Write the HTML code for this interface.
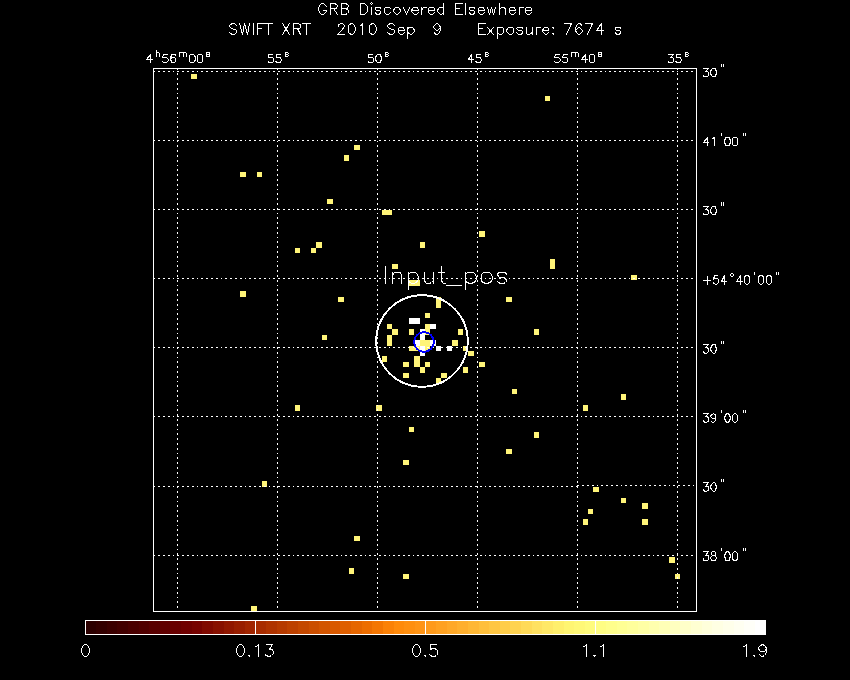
<!DOCTYPE html>
<html><head><meta charset="utf-8"><title>GRB Discovered Elsewhere</title>
<style>
html,body{margin:0;padding:0;background:#000;width:850px;height:680px;overflow:hidden;font-family:"Liberation Sans",sans-serif;}
svg{display:block}
</style></head><body>
<svg width="850" height="680" viewBox="0 0 850 680">
<rect width="850" height="680" fill="#000"/>
<g shape-rendering="crispEdges">
<rect x="191" y="74" width="6" height="5" fill="#fff478"/>
<rect x="240" y="172" width="6" height="5" fill="#fff478"/>
<rect x="257" y="172" width="5" height="5" fill="#fff478"/>
<rect x="354" y="145" width="6" height="5" fill="#fff478"/>
<rect x="344" y="155" width="5" height="6" fill="#fff478"/>
<rect x="327" y="199" width="6" height="5" fill="#fff478"/>
<rect x="545" y="96" width="5" height="5" fill="#fff478"/>
<rect x="295" y="248" width="5" height="5" fill="#fff478"/>
<rect x="311" y="248" width="5" height="5" fill="#fff478"/>
<rect x="316" y="242" width="6" height="6" fill="#fff478"/>
<rect x="240" y="291" width="6" height="6" fill="#fff478"/>
<rect x="382" y="210" width="5" height="5" fill="#fff478"/>
<rect x="387" y="210" width="5" height="5" fill="#fff478"/>
<rect x="479" y="231" width="6" height="6" fill="#fff478"/>
<rect x="420" y="242" width="5" height="6" fill="#fff478"/>
<rect x="392" y="264" width="6" height="5" fill="#fff478"/>
<rect x="409" y="280" width="5" height="6" fill="#fff478"/>
<rect x="414" y="280" width="6" height="6" fill="#fff478"/>
<rect x="338" y="297" width="6" height="5" fill="#fff478"/>
<rect x="436" y="297" width="5" height="5" fill="#fff478"/>
<rect x="436" y="302" width="5" height="6" fill="#fff478"/>
<rect x="425" y="313" width="5" height="5" fill="#fff478"/>
<rect x="387" y="324" width="5" height="5" fill="#fff478"/>
<rect x="392" y="329" width="6" height="6" fill="#fff478"/>
<rect x="387" y="335" width="5" height="5" fill="#fff478"/>
<rect x="387" y="340" width="5" height="6" fill="#fff478"/>
<rect x="409" y="329" width="5" height="6" fill="#fff478"/>
<rect x="425" y="324" width="5" height="5" fill="#fff478"/>
<rect x="425" y="329" width="5" height="6" fill="#fff478"/>
<rect x="458" y="329" width="5" height="6" fill="#fff478"/>
<rect x="420" y="340" width="5" height="6" fill="#fff478"/>
<rect x="425" y="340" width="5" height="6" fill="#fff478"/>
<rect x="409" y="346" width="5" height="5" fill="#fff478"/>
<rect x="414" y="346" width="6" height="5" fill="#fff478"/>
<rect x="425" y="346" width="5" height="5" fill="#fff478"/>
<rect x="452" y="340" width="6" height="6" fill="#fff478"/>
<rect x="463" y="346" width="5" height="5" fill="#fff478"/>
<rect x="468" y="351" width="6" height="5" fill="#fff478"/>
<rect x="382" y="356" width="5" height="6" fill="#fff478"/>
<rect x="414" y="356" width="6" height="6" fill="#fff478"/>
<rect x="414" y="362" width="6" height="5" fill="#fff478"/>
<rect x="403" y="362" width="6" height="5" fill="#fff478"/>
<rect x="425" y="362" width="5" height="5" fill="#fff478"/>
<rect x="420" y="367" width="5" height="6" fill="#fff478"/>
<rect x="403" y="373" width="6" height="5" fill="#fff478"/>
<rect x="441" y="373" width="6" height="5" fill="#fff478"/>
<rect x="463" y="367" width="5" height="6" fill="#fff478"/>
<rect x="479" y="362" width="6" height="5" fill="#fff478"/>
<rect x="436" y="378" width="5" height="6" fill="#fff478"/>
<rect x="376" y="405" width="6" height="6" fill="#fff478"/>
<rect x="409" y="427" width="5" height="5" fill="#fff478"/>
<rect x="550" y="259" width="5" height="5" fill="#fff478"/>
<rect x="550" y="264" width="5" height="5" fill="#fff478"/>
<rect x="631" y="275" width="6" height="5" fill="#fff478"/>
<rect x="506" y="297" width="6" height="5" fill="#fff478"/>
<rect x="534" y="329" width="5" height="6" fill="#fff478"/>
<rect x="295" y="405" width="5" height="6" fill="#fff478"/>
<rect x="512" y="389" width="5" height="5" fill="#fff478"/>
<rect x="621" y="394" width="5" height="6" fill="#fff478"/>
<rect x="583" y="405" width="5" height="6" fill="#fff478"/>
<rect x="534" y="432" width="5" height="6" fill="#fff478"/>
<rect x="506" y="449" width="6" height="5" fill="#fff478"/>
<rect x="322" y="335" width="5" height="5" fill="#fff478"/>
<rect x="403" y="460" width="6" height="5" fill="#fff478"/>
<rect x="262" y="481" width="5" height="6" fill="#fff478"/>
<rect x="251" y="606" width="6" height="5" fill="#fff478"/>
<rect x="354" y="536" width="6" height="5" fill="#fff478"/>
<rect x="349" y="568" width="5" height="6" fill="#fff478"/>
<rect x="403" y="574" width="6" height="5" fill="#fff478"/>
<rect x="593" y="487" width="6" height="5" fill="#fff478"/>
<rect x="621" y="498" width="5" height="5" fill="#fff478"/>
<rect x="642" y="503" width="6" height="6" fill="#fff478"/>
<rect x="588" y="509" width="5" height="5" fill="#fff478"/>
<rect x="583" y="519" width="5" height="6" fill="#fff478"/>
<rect x="642" y="519" width="6" height="6" fill="#fff478"/>
<rect x="669" y="557" width="6" height="6" fill="#fff478"/>
<rect x="675" y="574" width="5" height="5" fill="#fff478"/>
<rect x="409" y="318" width="5" height="6" fill="#ffffff"/>
<rect x="414" y="318" width="6" height="6" fill="#ffffff"/>
<rect x="430" y="324" width="6" height="5" fill="#ffffff"/>
<rect x="420" y="329" width="5" height="6" fill="#ffffff"/>
<rect x="420" y="335" width="5" height="5" fill="#ffffff"/>
<rect x="414" y="340" width="6" height="6" fill="#ffffff"/>
<rect x="430" y="340" width="6" height="6" fill="#ffffff"/>
<rect x="420" y="346" width="5" height="5" fill="#ffffff"/>
<rect x="436" y="346" width="5" height="5" fill="#ffffff"/>
<rect x="447" y="346" width="5" height="5" fill="#ffffff"/>
<rect x="420" y="351" width="5" height="5" fill="#ffffff"/>
</g>
<path d="M177.5 68.5 V611 M277.5 68.5 V611 M377.5 68.5 V611 M477.5 68.5 V611 M577.5 68.5 V611 M677.5 68.5 V611 M153.4 71.5 H696 M153.4 140.5 H696 M153.4 209.5 H696 M153.4 278.5 H696 M153.4 347.5 H696 M153.4 416.5 H696 M153.4 486.5 H577.4 M577.4 485.5 H696 M153.4 555.5 H696" stroke="#fff" stroke-width="1" stroke-dasharray="1.8 3" fill="none" shape-rendering="crispEdges"/>
<rect x="153.5" y="68.5" width="543" height="543" fill="none" stroke="#fff" stroke-width="1" shape-rendering="crispEdges"/>
<circle cx="422" cy="341" r="45.75" fill="none" stroke="#fff" stroke-width="1.9" shape-rendering="crispEdges"/>
<circle cx="424" cy="342" r="9.8" fill="none" stroke="#0000ff" stroke-width="1.8" shape-rendering="crispEdges"/>
<path d="M385.5 266.5 L385.5 283.5 M392.5 272.5 L392.5 283.5 M392.5 275.5 L394.5 272.5 L396.5 272.5 L398.5 272.5 L400.5 272.5 L401.5 275.5 L401.5 283.5 M408.5 272.5 L408.5 289.5 M408.5 274.5 L410.5 272.5 L411.5 272.5 L414.5 272.5 L415.5 272.5 L417.5 274.5 L418.5 277.5 L418.5 278.5 L417.5 281.5 L415.5 282.5 L414.5 283.5 L411.5 283.5 L410.5 282.5 L408.5 281.5 M424.5 272.5 L424.5 280.5 L425.5 282.5 L426.5 283.5 L429.5 283.5 L431.5 282.5 L433.5 280.5 M433.5 272.5 L433.5 283.5 M441.5 266.5 L441.5 280.5 L442.5 282.5 L443.5 283.5 L445.5 283.5 M438.5 272.5 L444.5 272.5 M446.5 285.5 L461.5 285.5 M465.5 272.5 L465.5 289.5 M465.5 274.5 L467.5 272.5 L469.5 272.5 L471.5 272.5 L473.5 272.5 L475.5 274.5 L476.5 277.5 L476.5 278.5 L475.5 281.5 L473.5 282.5 L471.5 283.5 L469.5 283.5 L467.5 282.5 L465.5 281.5 M485.5 272.5 L483.5 272.5 L481.5 274.5 L481.5 277.5 L481.5 278.5 L481.5 281.5 L483.5 282.5 L485.5 283.5 L487.5 283.5 L489.5 282.5 L491.5 281.5 L492.5 278.5 L492.5 277.5 L491.5 274.5 L489.5 272.5 L487.5 272.5 L485.5 272.5 M506.5 274.5 L505.5 272.5 L503.5 272.5 L500.5 272.5 L498.5 272.5 L497.5 274.5 L498.5 276.5 L499.5 277.5 L504.5 277.5 L505.5 278.5 L506.5 280.5 L506.5 281.5 L505.5 282.5 L503.5 283.5 L500.5 283.5 L498.5 282.5 L497.5 281.5" stroke="#fff" stroke-width="1" fill="none" stroke-linecap="square" stroke-linejoin="bevel" shape-rendering="crispEdges"/>
<path d="M326.5 6.5 L325.5 5.5 L324.5 4.5 L323.5 3.5 L321.5 3.5 L320.5 4.5 L319.5 5.5 L319.5 6.5 L318.5 7.5 L318.5 10.5 L319.5 11.5 L319.5 12.5 L320.5 13.5 L321.5 14.5 L323.5 14.5 L324.5 13.5 L325.5 12.5 L326.5 11.5 L326.5 10.5 M323.5 10.5 L326.5 10.5 M330.5 3.5 L330.5 14.5 M330.5 3.5 L334.5 3.5 L336.5 4.5 L336.5 4.5 L337.5 5.5 L337.5 6.5 L336.5 7.5 L336.5 8.5 L334.5 8.5 L330.5 8.5 M333.5 8.5 L337.5 14.5 M341.5 3.5 L341.5 14.5 M341.5 3.5 L345.5 3.5 L347.5 4.5 L347.5 4.5 L348.5 5.5 L348.5 6.5 L347.5 7.5 L347.5 8.5 L345.5 8.5 M341.5 8.5 L345.5 8.5 L347.5 9.5 L347.5 9.5 L348.5 10.5 L348.5 12.5 L347.5 13.5 L347.5 13.5 L345.5 14.5 L341.5 14.5 M360.5 3.5 L360.5 14.5 M360.5 3.5 L364.5 3.5 L365.5 4.5 L366.5 5.5 L367.5 6.5 L367.5 7.5 L367.5 10.5 L367.5 11.5 L366.5 12.5 L365.5 13.5 L364.5 14.5 L360.5 14.5 M370.5 3.5 L371.5 4.5 L372.5 3.5 L371.5 2.5 L370.5 3.5 M371.5 7.5 L371.5 14.5 M380.5 8.5 L380.5 7.5 L378.5 7.5 L377.5 7.5 L375.5 7.5 L375.5 8.5 L375.5 9.5 L376.5 10.5 L379.5 10.5 L380.5 11.5 L380.5 12.5 L380.5 12.5 L380.5 13.5 L378.5 14.5 L377.5 14.5 L375.5 13.5 L375.5 12.5 M390.5 8.5 L389.5 7.5 L388.5 7.5 L386.5 7.5 L385.5 7.5 L384.5 8.5 L384.5 10.5 L384.5 11.5 L384.5 12.5 L385.5 13.5 L386.5 14.5 L388.5 14.5 L389.5 13.5 L390.5 12.5 M396.5 7.5 L395.5 7.5 L394.5 8.5 L393.5 10.5 L393.5 11.5 L394.5 12.5 L395.5 13.5 L396.5 14.5 L397.5 14.5 L398.5 13.5 L399.5 12.5 L400.5 11.5 L400.5 10.5 L399.5 8.5 L398.5 7.5 L397.5 7.5 L396.5 7.5 M403.5 7.5 L406.5 14.5 M409.5 7.5 L406.5 14.5 M411.5 10.5 L418.5 10.5 L418.5 9.5 L417.5 8.5 L417.5 7.5 L416.5 7.5 L414.5 7.5 L413.5 7.5 L412.5 8.5 L411.5 10.5 L411.5 11.5 L412.5 12.5 L413.5 13.5 L414.5 14.5 L416.5 14.5 L417.5 13.5 L418.5 12.5 M421.5 7.5 L421.5 14.5 M421.5 10.5 L422.5 8.5 L423.5 7.5 L424.5 7.5 L426.5 7.5 M428.5 10.5 L434.5 10.5 L434.5 9.5 L434.5 8.5 L433.5 7.5 L432.5 7.5 L430.5 7.5 L429.5 7.5 L428.5 8.5 L428.5 10.5 L428.5 11.5 L428.5 12.5 L429.5 13.5 L430.5 14.5 L432.5 14.5 L433.5 13.5 L434.5 12.5 M443.5 3.5 L443.5 14.5 M443.5 8.5 L442.5 7.5 L441.5 7.5 L440.5 7.5 L439.5 7.5 L438.5 8.5 L437.5 10.5 L437.5 11.5 L438.5 12.5 L439.5 13.5 L440.5 14.5 L441.5 14.5 L442.5 13.5 L443.5 12.5 M455.5 3.5 L455.5 14.5 M455.5 3.5 L462.5 3.5 M455.5 8.5 L459.5 8.5 M455.5 14.5 L462.5 14.5 M465.5 3.5 L465.5 14.5 M474.5 8.5 L474.5 7.5 L472.5 7.5 L471.5 7.5 L469.5 7.5 L469.5 8.5 L469.5 9.5 L470.5 10.5 L473.5 10.5 L474.5 11.5 L474.5 12.5 L474.5 12.5 L474.5 13.5 L472.5 14.5 L471.5 14.5 L469.5 13.5 L469.5 12.5 M478.5 10.5 L484.5 10.5 L484.5 9.5 L483.5 8.5 L483.5 7.5 L482.5 7.5 L480.5 7.5 L479.5 7.5 L478.5 8.5 L478.5 10.5 L478.5 11.5 L478.5 12.5 L479.5 13.5 L480.5 14.5 L482.5 14.5 L483.5 13.5 L484.5 12.5 M487.5 7.5 L489.5 14.5 M491.5 7.5 L489.5 14.5 M491.5 7.5 L493.5 14.5 M495.5 7.5 L493.5 14.5 M499.5 3.5 L499.5 14.5 M499.5 9.5 L501.5 7.5 L502.5 7.5 L503.5 7.5 L504.5 7.5 L505.5 9.5 L505.5 14.5 M509.5 10.5 L515.5 10.5 L515.5 9.5 L514.5 8.5 L514.5 7.5 L513.5 7.5 L511.5 7.5 L510.5 7.5 L509.5 8.5 L509.5 10.5 L509.5 11.5 L509.5 12.5 L510.5 13.5 L511.5 14.5 L513.5 14.5 L514.5 13.5 L515.5 12.5 M519.5 7.5 L519.5 14.5 M519.5 10.5 L519.5 8.5 L520.5 7.5 L521.5 7.5 L523.5 7.5 M525.5 10.5 L531.5 10.5 L531.5 9.5 L531.5 8.5 L530.5 7.5 L529.5 7.5 L527.5 7.5 L526.5 7.5 L525.5 8.5 L525.5 10.5 L525.5 11.5 L525.5 12.5 L526.5 13.5 L527.5 14.5 L529.5 14.5 L530.5 13.5 L531.5 12.5 M236.5 25.5 L235.5 24.5 L234.5 23.5 L232.5 23.5 L230.5 24.5 L229.5 25.5 L229.5 26.5 L230.5 27.5 L230.5 27.5 L231.5 28.5 L234.5 29.5 L235.5 29.5 L236.5 30.5 L236.5 31.5 L236.5 32.5 L235.5 33.5 L234.5 34.5 L232.5 34.5 L230.5 33.5 L229.5 32.5 M239.5 23.5 L242.5 34.5 M244.5 23.5 L242.5 34.5 M244.5 23.5 L247.5 34.5 M249.5 23.5 L247.5 34.5 M253.5 23.5 L253.5 34.5 M257.5 23.5 L257.5 34.5 M257.5 23.5 L264.5 23.5 M257.5 28.5 L261.5 28.5 M268.5 23.5 L268.5 34.5 M265.5 23.5 L272.5 23.5 M282.5 23.5 L289.5 34.5 M289.5 23.5 L282.5 34.5 M293.5 23.5 L293.5 34.5 M293.5 23.5 L298.5 23.5 L299.5 24.5 L300.5 24.5 L300.5 25.5 L300.5 26.5 L300.5 27.5 L299.5 28.5 L298.5 28.5 L293.5 28.5 M297.5 28.5 L300.5 34.5 M306.5 23.5 L306.5 34.5 M302.5 23.5 L310.5 23.5 M338.5 26.5 L338.5 25.5 L338.5 24.5 L339.5 24.5 L340.5 23.5 L342.5 23.5 L343.5 24.5 L343.5 24.5 L344.5 25.5 L344.5 26.5 L343.5 27.5 L342.5 29.5 L337.5 34.5 L344.5 34.5 M351.5 23.5 L349.5 24.5 L348.5 25.5 L348.5 28.5 L348.5 29.5 L348.5 32.5 L349.5 33.5 L351.5 34.5 L352.5 34.5 L353.5 33.5 L354.5 32.5 L355.5 29.5 L355.5 28.5 L354.5 25.5 L353.5 24.5 L352.5 23.5 L351.5 23.5 M360.5 25.5 L361.5 25.5 L362.5 23.5 L362.5 34.5 M372.5 23.5 L370.5 24.5 L369.5 25.5 L369.5 28.5 L369.5 29.5 L369.5 32.5 L370.5 33.5 L372.5 34.5 L373.5 34.5 L374.5 33.5 L375.5 32.5 L376.5 29.5 L376.5 28.5 L375.5 25.5 L374.5 24.5 L373.5 23.5 L372.5 23.5 M394.5 25.5 L393.5 24.5 L392.5 23.5 L390.5 23.5 L388.5 24.5 L387.5 25.5 L387.5 26.5 L388.5 27.5 L388.5 27.5 L389.5 28.5 L392.5 29.5 L393.5 29.5 L394.5 30.5 L394.5 31.5 L394.5 32.5 L393.5 33.5 L392.5 34.5 L390.5 34.5 L388.5 33.5 L387.5 32.5 M398.5 30.5 L404.5 30.5 L404.5 29.5 L403.5 28.5 L403.5 27.5 L402.5 27.5 L400.5 27.5 L399.5 27.5 L398.5 28.5 L398.5 30.5 L398.5 31.5 L398.5 32.5 L399.5 33.5 L400.5 34.5 L402.5 34.5 L403.5 33.5 L404.5 32.5 M407.5 27.5 L407.5 38.5 M407.5 28.5 L409.5 27.5 L410.5 27.5 L411.5 27.5 L412.5 27.5 L413.5 28.5 L414.5 30.5 L414.5 31.5 L413.5 32.5 L412.5 33.5 L411.5 34.5 L410.5 34.5 L409.5 33.5 L407.5 32.5 M440.5 27.5 L439.5 28.5 L438.5 29.5 L437.5 30.5 L436.5 30.5 L435.5 29.5 L434.5 28.5 L433.5 27.5 L433.5 26.5 L434.5 25.5 L435.5 24.5 L436.5 23.5 L437.5 23.5 L438.5 24.5 L439.5 25.5 L440.5 27.5 L440.5 29.5 L439.5 32.5 L438.5 33.5 L437.5 34.5 L436.5 34.5 L434.5 33.5 L434.5 32.5 M478.5 23.5 L478.5 34.5 M478.5 23.5 L485.5 23.5 M478.5 28.5 L482.5 28.5 M478.5 34.5 L485.5 34.5 M487.5 27.5 L493.5 34.5 M493.5 27.5 L487.5 34.5 M497.5 27.5 L497.5 38.5 M497.5 28.5 L498.5 27.5 L499.5 27.5 L501.5 27.5 L502.5 27.5 L503.5 28.5 L503.5 30.5 L503.5 31.5 L503.5 32.5 L502.5 33.5 L501.5 34.5 L499.5 34.5 L498.5 33.5 L497.5 32.5 M509.5 27.5 L508.5 27.5 L507.5 28.5 L506.5 30.5 L506.5 31.5 L507.5 32.5 L508.5 33.5 L509.5 34.5 L511.5 34.5 L512.5 33.5 L513.5 32.5 L513.5 31.5 L513.5 30.5 L513.5 28.5 L512.5 27.5 L511.5 27.5 L509.5 27.5 M522.5 28.5 L522.5 27.5 L520.5 27.5 L518.5 27.5 L517.5 27.5 L516.5 28.5 L517.5 29.5 L518.5 30.5 L521.5 30.5 L522.5 31.5 L522.5 32.5 L522.5 32.5 L522.5 33.5 L520.5 34.5 L518.5 34.5 L517.5 33.5 L516.5 32.5 M526.5 27.5 L526.5 32.5 L526.5 33.5 L527.5 34.5 L529.5 34.5 L530.5 33.5 L532.5 32.5 M532.5 27.5 L532.5 34.5 M536.5 27.5 L536.5 34.5 M536.5 30.5 L536.5 28.5 L537.5 27.5 L538.5 27.5 L540.5 27.5 M542.5 30.5 L548.5 30.5 L548.5 29.5 L548.5 28.5 L547.5 27.5 L546.5 27.5 L545.5 27.5 L544.5 27.5 L543.5 28.5 L542.5 30.5 L542.5 31.5 L543.5 32.5 L544.5 33.5 L545.5 34.5 L546.5 34.5 L547.5 33.5 L548.5 32.5 M553.5 27.5 L552.5 27.5 L553.5 28.5 L553.5 27.5 L553.5 27.5 M553.5 33.5 L552.5 33.5 L553.5 34.5 L553.5 33.5 L553.5 33.5 M571.5 23.5 L566.5 34.5 M564.5 23.5 L571.5 23.5 M581.5 25.5 L581.5 24.5 L579.5 23.5 L578.5 23.5 L577.5 24.5 L576.5 25.5 L575.5 28.5 L575.5 30.5 L576.5 32.5 L577.5 33.5 L578.5 34.5 L579.5 34.5 L580.5 33.5 L581.5 32.5 L582.5 31.5 L582.5 30.5 L581.5 29.5 L580.5 28.5 L579.5 27.5 L578.5 27.5 L577.5 28.5 L576.5 29.5 L575.5 30.5 M592.5 23.5 L587.5 34.5 M585.5 23.5 L592.5 23.5 M601.5 23.5 L596.5 30.5 L603.5 30.5 M601.5 23.5 L601.5 34.5 M620.5 28.5 L620.5 27.5 L618.5 27.5 L617.5 27.5 L615.5 27.5 L615.5 28.5 L615.5 29.5 L616.5 30.5 L619.5 30.5 L620.5 31.5 L620.5 32.5 L620.5 32.5 L620.5 33.5 L618.5 34.5 L617.5 34.5 L615.5 33.5 L615.5 32.5 M150.5 54.5 L146.5 59.5 L152.5 59.5 M150.5 54.5 L150.5 62.5 M156.5 50.5 L156.5 56.5 M156.5 53.5 L156.5 52.5 L157.5 52.5 L158.5 52.5 L158.5 52.5 L159.5 53.5 L159.5 56.5 M167.5 54.5 L163.5 54.5 L162.5 57.5 L163.5 57.5 L164.5 57.5 L165.5 57.5 L166.5 57.5 L167.5 58.5 L168.5 59.5 L168.5 60.5 L167.5 61.5 L166.5 62.5 L165.5 62.5 L164.5 62.5 L163.5 62.5 L162.5 61.5 L162.5 61.5 M175.5 55.5 L175.5 54.5 L173.5 54.5 L173.5 54.5 L171.5 54.5 L171.5 55.5 L170.5 57.5 L170.5 59.5 L171.5 61.5 L171.5 62.5 L173.5 62.5 L173.5 62.5 L174.5 62.5 L175.5 61.5 L175.5 60.5 L175.5 59.5 L175.5 58.5 L174.5 57.5 L173.5 57.5 L173.5 57.5 L171.5 57.5 L171.5 58.5 L170.5 59.5 M179.5 52.5 L179.5 56.5 M179.5 53.5 L180.5 52.5 L181.5 52.5 L182.5 52.5 L182.5 52.5 L183.5 53.5 L183.5 56.5 M183.5 53.5 L183.5 52.5 L184.5 52.5 L185.5 52.5 L185.5 52.5 L186.5 53.5 L186.5 56.5 M191.5 54.5 L190.5 54.5 L189.5 55.5 L189.5 57.5 L189.5 59.5 L189.5 61.5 L190.5 62.5 L191.5 62.5 L192.5 62.5 L193.5 62.5 L194.5 61.5 L195.5 59.5 L195.5 57.5 L194.5 55.5 L193.5 54.5 L192.5 54.5 L191.5 54.5 M199.5 54.5 L198.5 54.5 L197.5 55.5 L197.5 57.5 L197.5 59.5 L197.5 61.5 L198.5 62.5 L199.5 62.5 L200.5 62.5 L201.5 62.5 L202.5 61.5 L202.5 59.5 L202.5 57.5 L202.5 55.5 L201.5 54.5 L200.5 54.5 L199.5 54.5 M209.5 53.5 L209.5 52.5 L208.5 52.5 L207.5 52.5 L206.5 52.5 L206.5 53.5 L206.5 54.5 L207.5 54.5 L208.5 54.5 L209.5 54.5 L209.5 55.5 L209.5 55.5 L209.5 56.5 L208.5 56.5 L207.5 56.5 L206.5 56.5 L206.5 55.5 M272.5 54.5 L268.5 54.5 L268.5 57.5 L268.5 57.5 L270.5 57.5 L271.5 57.5 L272.5 57.5 L273.5 58.5 L273.5 59.5 L273.5 60.5 L273.5 61.5 L272.5 62.5 L271.5 62.5 L270.5 62.5 L268.5 62.5 L268.5 61.5 L268.5 61.5 M280.5 54.5 L276.5 54.5 L276.5 57.5 L276.5 57.5 L277.5 57.5 L278.5 57.5 L280.5 57.5 L280.5 58.5 L281.5 59.5 L281.5 60.5 L280.5 61.5 L280.5 62.5 L278.5 62.5 L277.5 62.5 L276.5 62.5 L276.5 61.5 L275.5 61.5 M288.5 53.5 L287.5 52.5 L287.5 52.5 L286.5 52.5 L285.5 52.5 L285.5 53.5 L285.5 54.5 L285.5 54.5 L287.5 54.5 L287.5 54.5 L288.5 55.5 L288.5 55.5 L287.5 56.5 L287.5 56.5 L286.5 56.5 L285.5 56.5 L285.5 55.5 M372.5 54.5 L368.5 54.5 L368.5 57.5 L368.5 57.5 L370.5 57.5 L371.5 57.5 L372.5 57.5 L373.5 58.5 L373.5 59.5 L373.5 60.5 L373.5 61.5 L372.5 62.5 L371.5 62.5 L370.5 62.5 L368.5 62.5 L368.5 61.5 L368.5 61.5 M378.5 54.5 L377.5 54.5 L376.5 55.5 L375.5 57.5 L375.5 59.5 L376.5 61.5 L377.5 62.5 L378.5 62.5 L378.5 62.5 L380.5 62.5 L380.5 61.5 L381.5 59.5 L381.5 57.5 L380.5 55.5 L380.5 54.5 L378.5 54.5 L378.5 54.5 M388.5 53.5 L387.5 52.5 L387.5 52.5 L386.5 52.5 L385.5 52.5 L385.5 53.5 L385.5 54.5 L385.5 54.5 L387.5 54.5 L387.5 54.5 L388.5 55.5 L388.5 55.5 L387.5 56.5 L387.5 56.5 L386.5 56.5 L385.5 56.5 L385.5 55.5 M471.5 54.5 L468.5 59.5 L473.5 59.5 M471.5 54.5 L471.5 62.5 M480.5 54.5 L476.5 54.5 L476.5 57.5 L476.5 57.5 L477.5 57.5 L478.5 57.5 L480.5 57.5 L480.5 58.5 L481.5 59.5 L481.5 60.5 L480.5 61.5 L480.5 62.5 L478.5 62.5 L477.5 62.5 L476.5 62.5 L476.5 61.5 L475.5 61.5 M488.5 53.5 L487.5 52.5 L487.5 52.5 L486.5 52.5 L485.5 52.5 L485.5 53.5 L485.5 54.5 L485.5 54.5 L487.5 54.5 L487.5 54.5 L488.5 55.5 L488.5 55.5 L487.5 56.5 L487.5 56.5 L486.5 56.5 L485.5 56.5 L485.5 55.5 M559.5 54.5 L555.5 54.5 L554.5 57.5 L555.5 57.5 L556.5 57.5 L557.5 57.5 L558.5 57.5 L559.5 58.5 L560.5 59.5 L560.5 60.5 L559.5 61.5 L558.5 62.5 L557.5 62.5 L556.5 62.5 L555.5 62.5 L554.5 61.5 L554.5 61.5 M567.5 54.5 L563.5 54.5 L562.5 57.5 L563.5 57.5 L564.5 57.5 L565.5 57.5 L566.5 57.5 L567.5 58.5 L567.5 59.5 L567.5 60.5 L567.5 61.5 L566.5 62.5 L565.5 62.5 L564.5 62.5 L563.5 62.5 L562.5 61.5 L562.5 61.5 M571.5 52.5 L571.5 56.5 M571.5 53.5 L572.5 52.5 L573.5 52.5 L574.5 52.5 L574.5 52.5 L575.5 53.5 L575.5 56.5 M575.5 53.5 L575.5 52.5 L576.5 52.5 L577.5 52.5 L577.5 52.5 L578.5 53.5 L578.5 56.5 M585.5 54.5 L581.5 59.5 L587.5 59.5 M585.5 54.5 L585.5 62.5 M591.5 54.5 L590.5 54.5 L589.5 55.5 L589.5 57.5 L589.5 59.5 L589.5 61.5 L590.5 62.5 L591.5 62.5 L592.5 62.5 L593.5 62.5 L594.5 61.5 L594.5 59.5 L594.5 57.5 L594.5 55.5 L593.5 54.5 L592.5 54.5 L591.5 54.5 M601.5 53.5 L601.5 52.5 L600.5 52.5 L599.5 52.5 L598.5 52.5 L598.5 53.5 L598.5 54.5 L599.5 54.5 L600.5 54.5 L601.5 54.5 L601.5 55.5 L601.5 55.5 L601.5 56.5 L600.5 56.5 L599.5 56.5 L598.5 56.5 L598.5 55.5 M668.5 54.5 L673.5 54.5 L670.5 57.5 L671.5 57.5 L672.5 57.5 L673.5 58.5 L673.5 59.5 L673.5 60.5 L673.5 61.5 L672.5 62.5 L671.5 62.5 L670.5 62.5 L668.5 62.5 L668.5 61.5 L668.5 61.5 M680.5 54.5 L676.5 54.5 L676.5 57.5 L676.5 57.5 L677.5 57.5 L678.5 57.5 L680.5 57.5 L680.5 58.5 L681.5 59.5 L681.5 60.5 L680.5 61.5 L680.5 62.5 L678.5 62.5 L677.5 62.5 L676.5 62.5 L676.5 61.5 L675.5 61.5 M688.5 53.5 L687.5 52.5 L687.5 52.5 L686.5 52.5 L685.5 52.5 L685.5 53.5 L685.5 54.5 L685.5 54.5 L687.5 54.5 L687.5 54.5 L688.5 55.5 L688.5 55.5 L687.5 56.5 L687.5 56.5 L686.5 56.5 L685.5 56.5 L685.5 55.5 M703.5 68.5 L708.5 68.5 L705.5 71.5 L707.5 71.5 L707.5 71.5 L708.5 72.5 L708.5 73.5 L708.5 74.5 L708.5 75.5 L707.5 76.5 L706.5 76.5 L705.5 76.5 L703.5 76.5 L703.5 75.5 L703.5 75.5 M713.5 68.5 L712.5 68.5 L711.5 69.5 L710.5 71.5 L710.5 73.5 L711.5 75.5 L712.5 76.5 L713.5 76.5 L714.5 76.5 L715.5 76.5 L715.5 75.5 L716.5 73.5 L716.5 71.5 L715.5 69.5 L715.5 68.5 L714.5 68.5 L713.5 68.5 M721.5 64.5 L721.5 66.5 M723.5 64.5 L723.5 66.5 M707.5 137.5 L703.5 142.5 L708.5 142.5 M707.5 137.5 L707.5 145.5 M712.5 138.5 L712.5 138.5 L714.5 137.5 L714.5 145.5 M721.5 133.5 L721.5 135.5 M727.5 137.5 L725.5 137.5 L725.5 138.5 L724.5 140.5 L724.5 142.5 L725.5 144.5 L725.5 145.5 L727.5 145.5 L727.5 145.5 L729.5 145.5 L729.5 144.5 L730.5 142.5 L730.5 140.5 L729.5 138.5 L729.5 137.5 L727.5 137.5 L727.5 137.5 M734.5 137.5 L733.5 137.5 L732.5 138.5 L732.5 140.5 L732.5 142.5 L732.5 144.5 L733.5 145.5 L734.5 145.5 L735.5 145.5 L736.5 145.5 L737.5 144.5 L737.5 142.5 L737.5 140.5 L737.5 138.5 L736.5 137.5 L735.5 137.5 L734.5 137.5 M743.5 133.5 L743.5 135.5 M745.5 133.5 L745.5 135.5 M703.5 206.5 L708.5 206.5 L705.5 209.5 L707.5 209.5 L707.5 210.5 L708.5 210.5 L708.5 211.5 L708.5 212.5 L708.5 213.5 L707.5 214.5 L706.5 214.5 L705.5 214.5 L703.5 214.5 L703.5 214.5 L703.5 213.5 M713.5 206.5 L712.5 206.5 L711.5 207.5 L710.5 210.5 L710.5 211.5 L711.5 213.5 L712.5 214.5 L713.5 214.5 L714.5 214.5 L715.5 214.5 L715.5 213.5 L716.5 211.5 L716.5 210.5 L715.5 207.5 L715.5 206.5 L714.5 206.5 L713.5 206.5 M721.5 202.5 L721.5 205.5 M723.5 202.5 L723.5 205.5 M707.5 276.5 L707.5 284.5 M703.5 280.5 L710.5 280.5 M717.5 275.5 L714.5 275.5 L713.5 279.5 L714.5 278.5 L715.5 278.5 L716.5 278.5 L717.5 278.5 L718.5 279.5 L718.5 280.5 L718.5 281.5 L718.5 282.5 L717.5 283.5 L716.5 284.5 L715.5 284.5 L714.5 283.5 L713.5 283.5 L713.5 282.5 M724.5 275.5 L721.5 281.5 L726.5 281.5 M724.5 275.5 L724.5 284.5 M731.5 273.5 L732.5 273.5 L733.5 274.5 L733.5 275.5 L732.5 276.5 L731.5 276.5 L730.5 275.5 L730.5 274.5 L731.5 273.5 M740.5 275.5 L736.5 281.5 L742.5 281.5 M740.5 275.5 L740.5 284.5 M746.5 275.5 L745.5 275.5 L744.5 277.5 L744.5 279.5 L744.5 280.5 L744.5 282.5 L745.5 283.5 L746.5 284.5 L747.5 284.5 L748.5 283.5 L749.5 282.5 L749.5 280.5 L749.5 279.5 L749.5 277.5 L748.5 275.5 L747.5 275.5 L746.5 275.5 M754.5 272.5 L754.5 274.5 M760.5 275.5 L759.5 275.5 L758.5 277.5 L758.5 279.5 L758.5 280.5 L758.5 282.5 L759.5 283.5 L760.5 284.5 L761.5 284.5 L762.5 283.5 L763.5 282.5 L763.5 280.5 L763.5 279.5 L763.5 277.5 L762.5 275.5 L761.5 275.5 L760.5 275.5 M768.5 275.5 L767.5 275.5 L766.5 277.5 L766.5 279.5 L766.5 280.5 L766.5 282.5 L767.5 283.5 L768.5 284.5 L769.5 284.5 L770.5 283.5 L771.5 282.5 L771.5 280.5 L771.5 279.5 L771.5 277.5 L770.5 275.5 L769.5 275.5 L768.5 275.5 M776.5 272.5 L776.5 274.5 M778.5 272.5 L778.5 274.5 M703.5 344.5 L708.5 344.5 L705.5 347.5 L707.5 347.5 L707.5 348.5 L708.5 348.5 L708.5 349.5 L708.5 350.5 L708.5 351.5 L707.5 352.5 L706.5 353.5 L705.5 353.5 L703.5 352.5 L703.5 352.5 L703.5 351.5 M713.5 344.5 L712.5 344.5 L711.5 346.5 L710.5 348.5 L710.5 349.5 L711.5 351.5 L712.5 352.5 L713.5 353.5 L714.5 353.5 L715.5 352.5 L715.5 351.5 L716.5 349.5 L716.5 348.5 L715.5 346.5 L715.5 344.5 L714.5 344.5 L713.5 344.5 M721.5 341.5 L721.5 343.5 M723.5 341.5 L723.5 343.5 M703.5 413.5 L708.5 413.5 L705.5 416.5 L707.5 416.5 L707.5 417.5 L708.5 417.5 L708.5 418.5 L708.5 419.5 L708.5 421.5 L707.5 421.5 L706.5 422.5 L705.5 422.5 L703.5 421.5 L703.5 421.5 L703.5 420.5 M715.5 416.5 L715.5 417.5 L714.5 418.5 L713.5 418.5 L713.5 418.5 L712.5 418.5 L711.5 417.5 L710.5 416.5 L710.5 416.5 L711.5 414.5 L712.5 414.5 L713.5 413.5 L713.5 413.5 L714.5 414.5 L715.5 414.5 L715.5 416.5 L715.5 418.5 L715.5 420.5 L714.5 421.5 L713.5 422.5 L712.5 422.5 L711.5 421.5 L711.5 421.5 M721.5 410.5 L721.5 412.5 M727.5 413.5 L725.5 414.5 L725.5 415.5 L724.5 417.5 L724.5 418.5 L725.5 420.5 L725.5 421.5 L727.5 422.5 L727.5 422.5 L729.5 421.5 L729.5 420.5 L730.5 418.5 L730.5 417.5 L729.5 415.5 L729.5 414.5 L727.5 413.5 L727.5 413.5 M734.5 413.5 L733.5 414.5 L732.5 415.5 L732.5 417.5 L732.5 418.5 L732.5 420.5 L733.5 421.5 L734.5 422.5 L735.5 422.5 L736.5 421.5 L737.5 420.5 L737.5 418.5 L737.5 417.5 L737.5 415.5 L736.5 414.5 L735.5 413.5 L734.5 413.5 M743.5 410.5 L743.5 412.5 M745.5 410.5 L745.5 412.5 M703.5 482.5 L708.5 482.5 L705.5 486.5 L707.5 486.5 L707.5 486.5 L708.5 486.5 L708.5 488.5 L708.5 488.5 L708.5 490.5 L707.5 490.5 L706.5 491.5 L705.5 491.5 L703.5 490.5 L703.5 490.5 L703.5 489.5 M713.5 482.5 L712.5 483.5 L711.5 484.5 L710.5 486.5 L710.5 487.5 L711.5 489.5 L712.5 490.5 L713.5 491.5 L714.5 491.5 L715.5 490.5 L715.5 489.5 L716.5 487.5 L716.5 486.5 L715.5 484.5 L715.5 483.5 L714.5 482.5 L713.5 482.5 M721.5 479.5 L721.5 481.5 M723.5 479.5 L723.5 481.5 M703.5 551.5 L708.5 551.5 L705.5 555.5 L707.5 555.5 L707.5 555.5 L708.5 555.5 L708.5 557.5 L708.5 557.5 L708.5 559.5 L707.5 560.5 L706.5 560.5 L705.5 560.5 L703.5 560.5 L703.5 559.5 L703.5 558.5 M712.5 551.5 L711.5 552.5 L711.5 553.5 L711.5 553.5 L711.5 554.5 L712.5 555.5 L714.5 555.5 L715.5 555.5 L715.5 556.5 L716.5 557.5 L716.5 558.5 L715.5 559.5 L715.5 560.5 L714.5 560.5 L712.5 560.5 L711.5 560.5 L711.5 559.5 L710.5 558.5 L710.5 557.5 L711.5 556.5 L712.5 555.5 L713.5 555.5 L714.5 555.5 L715.5 554.5 L715.5 553.5 L715.5 553.5 L715.5 552.5 L714.5 551.5 L712.5 551.5 M721.5 548.5 L721.5 550.5 M727.5 551.5 L725.5 552.5 L725.5 553.5 L724.5 555.5 L724.5 556.5 L725.5 558.5 L725.5 560.5 L727.5 560.5 L727.5 560.5 L729.5 560.5 L729.5 558.5 L730.5 556.5 L730.5 555.5 L729.5 553.5 L729.5 552.5 L727.5 551.5 L727.5 551.5 M734.5 551.5 L733.5 552.5 L732.5 553.5 L732.5 555.5 L732.5 556.5 L732.5 558.5 L733.5 560.5 L734.5 560.5 L735.5 560.5 L736.5 560.5 L737.5 558.5 L737.5 556.5 L737.5 555.5 L737.5 553.5 L736.5 552.5 L735.5 551.5 L734.5 551.5 M743.5 548.5 L743.5 550.5 M745.5 548.5 L745.5 550.5 M84.5 644.5 L83.5 645.5 L82.5 646.5 L81.5 649.5 L81.5 651.5 L82.5 654.5 L83.5 655.5 L84.5 656.5 L86.5 656.5 L87.5 655.5 L88.5 654.5 L89.5 651.5 L89.5 649.5 L88.5 646.5 L87.5 645.5 L86.5 644.5 L84.5 644.5 M239.5 644.5 L238.5 645.5 L237.5 646.5 L236.5 649.5 L236.5 651.5 L237.5 654.5 L238.5 655.5 L239.5 656.5 L241.5 656.5 L242.5 655.5 L243.5 654.5 L244.5 651.5 L244.5 649.5 L243.5 646.5 L242.5 645.5 L241.5 644.5 L239.5 644.5 M249.5 655.5 L248.5 655.5 L249.5 656.5 L249.5 655.5 L249.5 655.5 M255.5 646.5 L256.5 646.5 L258.5 644.5 L258.5 656.5 M266.5 644.5 L272.5 644.5 L269.5 649.5 L271.5 649.5 L272.5 649.5 L272.5 650.5 L273.5 651.5 L273.5 653.5 L272.5 654.5 L271.5 655.5 L269.5 656.5 L268.5 656.5 L266.5 655.5 L265.5 655.5 L265.5 654.5 M415.5 644.5 L414.5 645.5 L413.5 646.5 L412.5 649.5 L412.5 651.5 L413.5 654.5 L414.5 655.5 L415.5 656.5 L417.5 656.5 L418.5 655.5 L419.5 654.5 L420.5 651.5 L420.5 649.5 L419.5 646.5 L418.5 645.5 L417.5 644.5 L415.5 644.5 M425.5 655.5 L424.5 655.5 L425.5 656.5 L425.5 655.5 L425.5 655.5 M436.5 644.5 L430.5 644.5 L430.5 649.5 L430.5 649.5 L432.5 648.5 L434.5 648.5 L436.5 649.5 L437.5 650.5 L437.5 651.5 L437.5 653.5 L437.5 654.5 L436.5 655.5 L434.5 656.5 L432.5 656.5 L430.5 655.5 L430.5 655.5 L429.5 654.5 M583.5 646.5 L584.5 646.5 L586.5 644.5 L586.5 656.5 M594.5 655.5 L593.5 655.5 L594.5 656.5 L595.5 655.5 L594.5 655.5 M600.5 646.5 L601.5 646.5 L603.5 644.5 L603.5 656.5 M743.5 646.5 L744.5 646.5 L746.5 644.5 L746.5 656.5 M754.5 655.5 L753.5 655.5 L754.5 656.5 L754.5 655.5 L754.5 655.5 M766.5 648.5 L765.5 650.5 L764.5 651.5 L762.5 651.5 L762.5 651.5 L760.5 651.5 L759.5 650.5 L758.5 648.5 L758.5 647.5 L759.5 646.5 L760.5 645.5 L762.5 644.5 L762.5 644.5 L764.5 645.5 L765.5 646.5 L766.5 648.5 L766.5 651.5 L765.5 654.5 L764.5 655.5 L762.5 656.5 L761.5 656.5 L760.5 655.5 L759.5 654.5" stroke="#fff" stroke-width="1" fill="none" stroke-linecap="square" stroke-linejoin="bevel" shape-rendering="crispEdges"/>
<g shape-rendering="crispEdges">
<rect x="86" y="621" width="10" height="13" fill="#2c0000"/>
<rect x="96" y="621" width="11" height="13" fill="#330000"/>
<rect x="107" y="621" width="10" height="13" fill="#3b0000"/>
<rect x="117" y="621" width="11" height="13" fill="#420000"/>
<rect x="128" y="621" width="11" height="13" fill="#4a0000"/>
<rect x="139" y="621" width="10" height="13" fill="#510000"/>
<rect x="149" y="621" width="11" height="13" fill="#590000"/>
<rect x="160" y="621" width="10" height="13" fill="#600000"/>
<rect x="170" y="621" width="11" height="13" fill="#680000"/>
<rect x="181" y="621" width="11" height="13" fill="#6f0000"/>
<rect x="192" y="621" width="10" height="13" fill="#760200"/>
<rect x="202" y="621" width="11" height="13" fill="#7f0900"/>
<rect x="213" y="621" width="11" height="13" fill="#871000"/>
<rect x="224" y="621" width="10" height="13" fill="#901700"/>
<rect x="234" y="621" width="11" height="13" fill="#981e00"/>
<rect x="245" y="621" width="11" height="13" fill="#a12500"/>
<rect x="256" y="621" width="10" height="13" fill="#a82c00"/>
<rect x="266" y="621" width="11" height="13" fill="#af3300"/>
<rect x="277" y="621" width="10" height="13" fill="#b63a00"/>
<rect x="287" y="621" width="11" height="13" fill="#bd4100"/>
<rect x="298" y="621" width="11" height="13" fill="#c44800"/>
<rect x="309" y="621" width="10" height="13" fill="#cb4e00"/>
<rect x="319" y="621" width="11" height="13" fill="#d25400"/>
<rect x="330" y="621" width="10" height="13" fill="#d95900"/>
<rect x="340" y="621" width="11" height="13" fill="#df5f00"/>
<rect x="351" y="621" width="11" height="13" fill="#e66600"/>
<rect x="362" y="621" width="10" height="13" fill="#ed6d00"/>
<rect x="372" y="621" width="11" height="13" fill="#f47602"/>
<rect x="383" y="621" width="11" height="13" fill="#fb8106"/>
<rect x="394" y="621" width="10" height="13" fill="#ff8a0a"/>
<rect x="404" y="621" width="11" height="13" fill="#ff8f0f"/>
<rect x="415" y="621" width="11" height="13" fill="#ff9415"/>
<rect x="426" y="621" width="10" height="13" fill="#ff9a1b"/>
<rect x="436" y="621" width="11" height="13" fill="#ffa121"/>
<rect x="447" y="621" width="10" height="13" fill="#ffa828"/>
<rect x="457" y="621" width="11" height="13" fill="#ffaf2e"/>
<rect x="468" y="621" width="11" height="13" fill="#ffb734"/>
<rect x="479" y="621" width="10" height="13" fill="#ffbf3b"/>
<rect x="489" y="621" width="11" height="13" fill="#ffc642"/>
<rect x="500" y="621" width="10" height="13" fill="#ffcd49"/>
<rect x="510" y="621" width="11" height="13" fill="#ffd350"/>
<rect x="521" y="621" width="11" height="13" fill="#ffda58"/>
<rect x="532" y="621" width="10" height="13" fill="#ffe161"/>
<rect x="542" y="621" width="11" height="13" fill="#ffe867"/>
<rect x="553" y="621" width="11" height="13" fill="#ffef6c"/>
<rect x="564" y="621" width="10" height="13" fill="#fff572"/>
<rect x="574" y="621" width="11" height="13" fill="#fff877"/>
<rect x="585" y="621" width="11" height="13" fill="#fffb7d"/>
<rect x="596" y="621" width="10" height="13" fill="#fffd84"/>
<rect x="606" y="621" width="11" height="13" fill="#fffe8c"/>
<rect x="617" y="621" width="10" height="13" fill="#ffff94"/>
<rect x="627" y="621" width="11" height="13" fill="#ffff9c"/>
<rect x="638" y="621" width="11" height="13" fill="#ffffa5"/>
<rect x="649" y="621" width="10" height="13" fill="#ffffae"/>
<rect x="659" y="621" width="11" height="13" fill="#ffffb7"/>
<rect x="670" y="621" width="10" height="13" fill="#ffffc0"/>
<rect x="680" y="621" width="11" height="13" fill="#ffffc9"/>
<rect x="691" y="621" width="11" height="13" fill="#ffffd2"/>
<rect x="702" y="621" width="10" height="13" fill="#ffffdb"/>
<rect x="712" y="621" width="11" height="13" fill="#ffffe3"/>
<rect x="723" y="621" width="11" height="13" fill="#ffffea"/>
<rect x="734" y="621" width="10" height="13" fill="#fffff1"/>
<rect x="744" y="621" width="11" height="13" fill="#fffff8"/>
<rect x="755" y="621" width="11" height="13" fill="#ffffff"/>
</g>
<rect x="85.5" y="620.5" width="680" height="14" fill="none" stroke="#fff" stroke-width="1" shape-rendering="crispEdges"/>
<path d="M255.5 621V634 M425.5 621V634 M595.5 621V634" stroke="#fff" stroke-width="1" shape-rendering="crispEdges"/>
</svg>
</body></html>
